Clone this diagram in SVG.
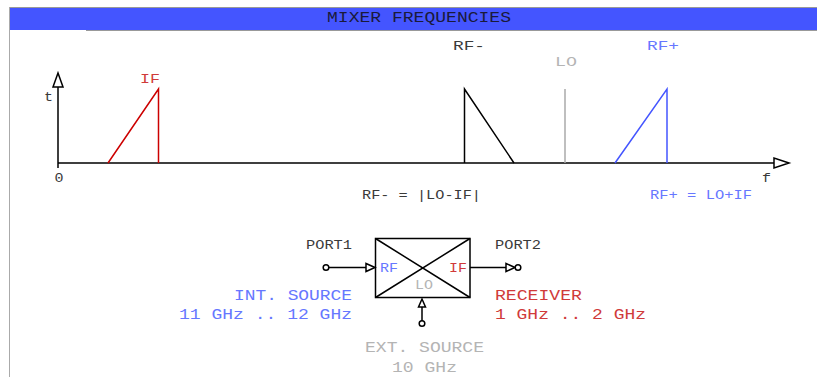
<svg xmlns="http://www.w3.org/2000/svg" width="817" height="377" viewBox="0 0 817 377">
<style>
text{font-family:"Liberation Mono","Courier New",monospace;font-size:12px;fill:#3a3a3a}
text.l{font-size:14px}
.r{fill:#d03a3a}.b{fill:#6677ff}.g{fill:#b4b4b4}
.ln{fill:none;stroke:#000;stroke-width:1.5}
.head{fill:#fff;stroke:#000;stroke-width:1.5}
.dot{fill:#fff;stroke:#000;stroke-width:1.5}
</style>
<rect width="817" height="377" fill="#fff"/>
<g id="frame">
<rect x="9" y="7" width="808" height="1" fill="#999"/>
<rect x="9" y="7" width="1" height="370" fill="#aaa"/>
<rect x="10" y="8" width="807" height="22" fill="#4455ff"/>
<rect x="86" y="30" width="731" height="1" fill="#999"/>
<text class="l" x="327" y="22" textLength="184" lengthAdjust="spacingAndGlyphs" style="fill:#1a1a3a">MIXER FREQUENCIES</text>
</g>
<g id="connectors">
<path class="ln" d="M58 168V86M58 163H776"/>
<path class="head" d="M58 73L53 87H63Z"/>
<path class="head" d="M789 163L774 158V168Z"/>
<path d="M108 163L158.500 89V163" fill="none" stroke="#cc0000" stroke-width="1.500"/>
<path class="ln" d="M464.500 163V89L514 163"/>
<path d="M565 163V89" fill="none" stroke="#aaaaaa" stroke-width="1.500"/>
<path d="M615 163L667 89V163" fill="none" stroke="#4455ff" stroke-width="1.500"/>
<path class="ln" d="M326 267.500H368M470 267.500H508M422 323V306"/>
<path class="head" d="M375 267.500L366 263.500V271.500Z"/>
<path class="head" d="M515 267.500L506 263.500V271.500Z"/>
<path class="head" d="M422 299L418.500 307H425.500Z"/>
</g>
<g id="spectrum-labels">
<text class="r" x="140" y="83" textLength="20" lengthAdjust="spacingAndGlyphs">IF</text>
<text x="453" y="50" textLength="32" lengthAdjust="spacingAndGlyphs">RF-</text>
<text class="g" x="555" y="66" textLength="22" lengthAdjust="spacingAndGlyphs">LO</text>
<text class="b" x="647" y="50" textLength="32" lengthAdjust="spacingAndGlyphs">RF+</text>
<text x="44" y="101" textLength="9" lengthAdjust="spacingAndGlyphs">t</text>
<text x="54.500" y="182" textLength="9" lengthAdjust="spacingAndGlyphs">0</text>
<text x="762" y="182" textLength="9" lengthAdjust="spacingAndGlyphs">f</text>
<text x="362" y="199" textLength="119" lengthAdjust="spacingAndGlyphs">RF- = |LO-IF|</text>
<text class="b" x="650" y="199" textLength="102" lengthAdjust="spacingAndGlyphs">RF+ = LO+IF</text>
</g>
<g id="mixer">
<rect class="ln" x="375.500" y="238.500" width="94.500" height="59"/>
<path class="ln" d="M375.500 238.500L470 297.500M375.500 297.500L470 238.500"/>
<text class="b" x="380" y="272" textLength="18" lengthAdjust="spacingAndGlyphs">RF</text>
<text class="r" x="449" y="272" textLength="18" lengthAdjust="spacingAndGlyphs">IF</text>
<text class="g" x="415" y="289" textLength="18" lengthAdjust="spacingAndGlyphs">LO</text>
</g>
<g id="port1">
<circle class="dot" cx="326" cy="267.500" r="2.800"/>
<text x="306" y="249" textLength="46" lengthAdjust="spacingAndGlyphs">PORT1</text>
<text class="l b" x="234" y="300" textLength="118" lengthAdjust="spacingAndGlyphs">INT. SOURCE</text>
<text class="l b" x="179" y="319" textLength="173" lengthAdjust="spacingAndGlyphs">11 GHz .. 12 GHz</text>
</g>
<g id="port2">
<circle class="dot" cx="518" cy="267.500" r="2.800"/>
<text x="495" y="249" textLength="46" lengthAdjust="spacingAndGlyphs">PORT2</text>
<text class="l r" x="495" y="300" textLength="87" lengthAdjust="spacingAndGlyphs">RECEIVER</text>
<text class="l r" x="495" y="319" textLength="151" lengthAdjust="spacingAndGlyphs">1 GHz .. 2 GHz</text>
</g>
<g id="ext-source">
<circle class="dot" cx="422" cy="323.500" r="2.800"/>
<text class="l g" x="365" y="352" textLength="119" lengthAdjust="spacingAndGlyphs">EXT. SOURCE</text>
<text class="l g" x="392" y="372" textLength="65" lengthAdjust="spacingAndGlyphs">10 GHz</text>
</g>
</svg>
